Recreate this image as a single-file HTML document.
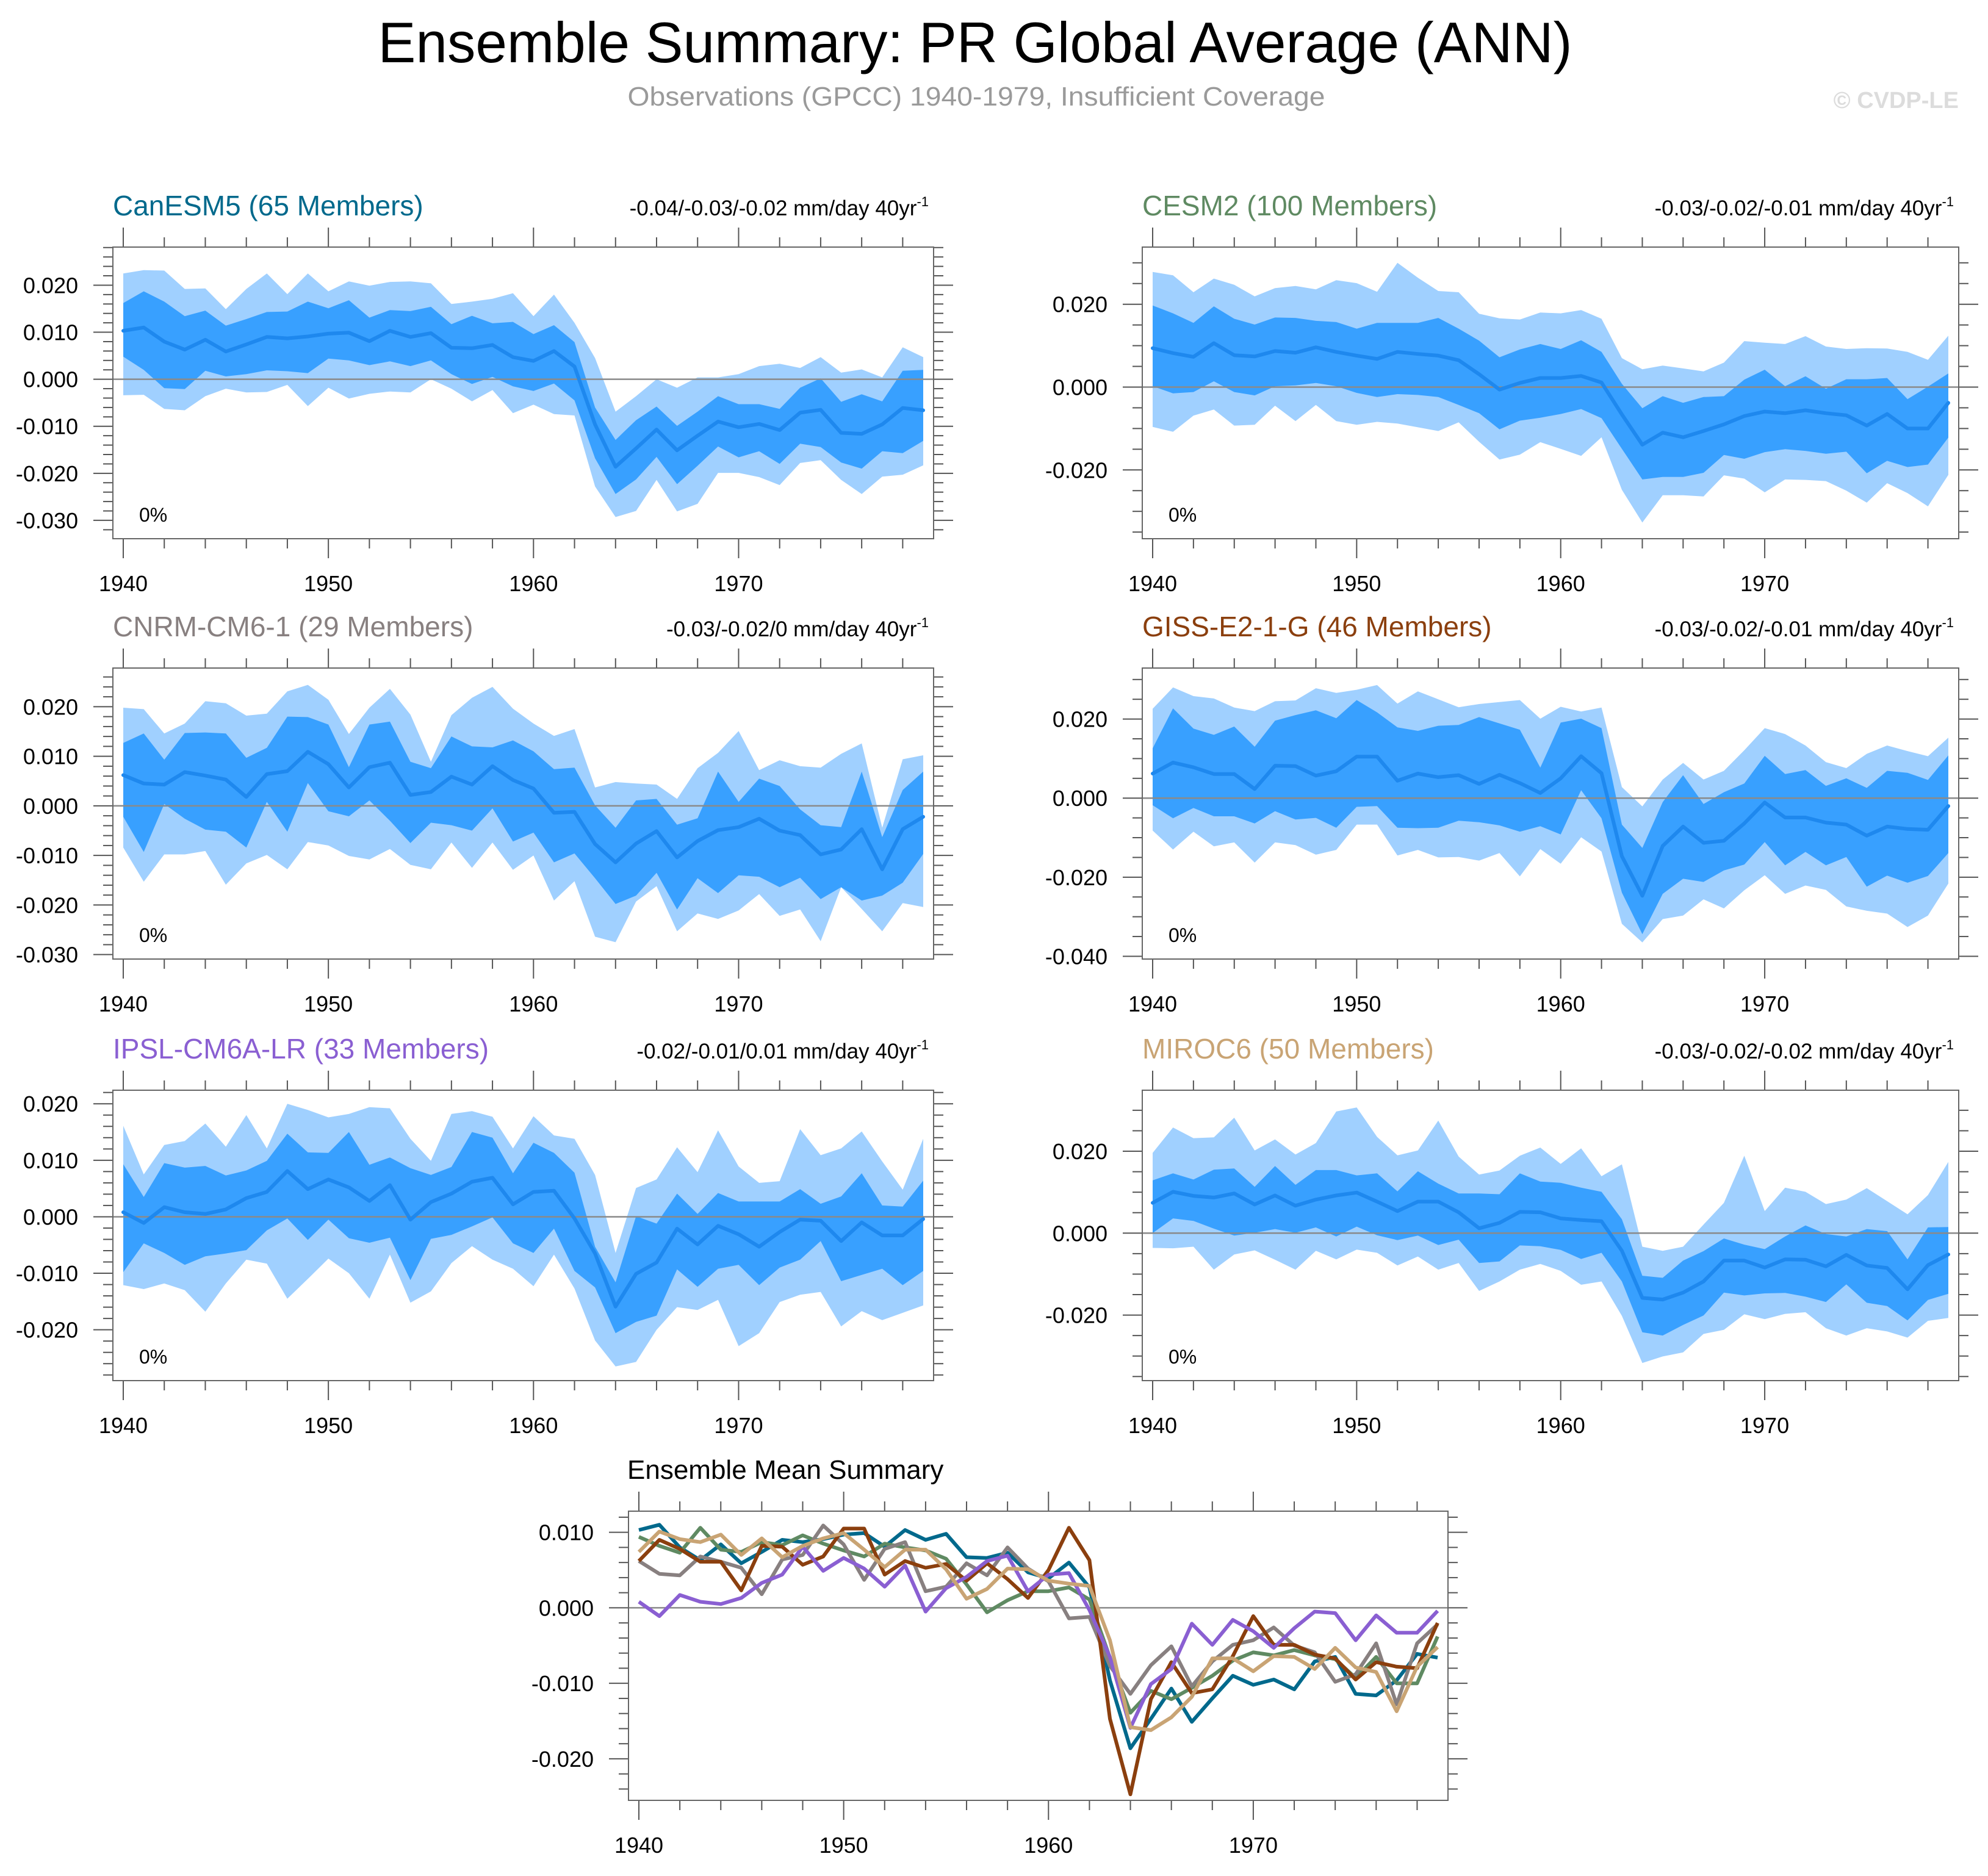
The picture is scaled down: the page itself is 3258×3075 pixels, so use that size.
<!DOCTYPE html>
<html><head><meta charset="utf-8"><title>Ensemble Summary: PR Global Average (ANN)</title>
<style>html,body{margin:0;padding:0;background:#fff}svg{display:block;font-family:"Liberation Sans",Arial,sans-serif}</style>
</head><body>
<svg id="chart" xmlns="http://www.w3.org/2000/svg" width="3258" height="3075" viewBox="0 0 3258 3075">
<rect x="0" y="0" width="3258" height="3075" fill="#fff"/>
<text x="1598" y="102" text-anchor="middle" font-size="94" textLength="1957" lengthAdjust="spacingAndGlyphs" fill="#000">Ensemble Summary: PR Global Average (ANN)</text>
<text x="1600" y="173" text-anchor="middle" font-size="44" textLength="1143" lengthAdjust="spacingAndGlyphs" fill="#9a9a9a">Observations (GPCC) 1940-1979, Insufficient Coverage</text>
<text x="3210" y="177" text-anchor="end" font-size="38" font-weight="bold" fill="#dcdcdc">© CVDP-LE</text>
<g id="panels"></g>
</svg>
<script>
// values in units of 1e-4 mm/day
const UNIT = 1e-4;
const years = [1940,1941,1942,1943,1944,1945,1946,1947,1948,1949,1950,1951,1952,1953,1954,1955,1956,1957,1958,1959,1960,1961,1962,1963,1964,1965,1966,1967,1968,1969,1970,1971,1972,1973,1974,1975,1976,1977,1978,1979];
const xTickLabels = ["1940","1950","1960","1970"];

const canesm5Mean = [103,110,80,63,84,59,74,90,87,91,97,99,81,103,90,98,67,66,73,47,39,60,27,-96,-186,-147,-107,-151,-120,-90,-102,-95,-108,-71,-65,-114,-116,-96,-61,-66];
const canesm5InnerHi = [162,187,165,134,146,114,128,143,144,165,151,168,131,147,145,154,117,135,119,122,96,115,79,-60,-129,-87,-58,-99,-69,-36,-53,-53,-63,-18,2,-48,-32,-47,18,20];
const canesm5InnerLo = [48,20,-19,-21,18,6,11,19,17,13,44,40,30,38,28,40,11,-10,5,-15,-25,-9,-45,-168,-244,-213,-165,-223,-184,-143,-166,-153,-180,-137,-144,-177,-190,-153,-157,-131];
const canesm5OuterHi = [225,232,231,192,193,149,192,225,181,225,187,208,199,207,208,204,160,165,171,183,134,180,120,45,-69,-36,0,-18,4,4,11,28,33,24,47,14,21,4,68,47];
const canesm5OuterLo = [-34,-33,-63,-66,-36,-20,-28,-27,-12,-57,-18,-41,-31,-26,-28,0,-20,-47,-23,-72,-54,-74,-77,-228,-293,-280,-214,-281,-265,-199,-199,-208,-225,-178,-172,-214,-244,-207,-203,-183];

const cesm2Mean = [94,82,73,106,77,74,87,83,96,85,76,68,85,80,76,65,31,-6,10,22,22,27,11,-66,-139,-110,-121,-106,-90,-70,-59,-63,-56,-63,-68,-93,-65,-100,-100,-38];
const cesm2InnerHi = [197,178,155,195,165,151,168,167,160,157,141,155,155,155,167,141,112,72,91,104,92,113,85,8,-51,-22,-38,-24,-22,18,42,2,26,-4,19,19,22,-29,1,33];
const cesm2InnerLo = [2,-15,-12,14,-12,-20,2,4,10,2,-14,-24,-17,-19,-24,-43,-63,-102,-81,-74,-65,-53,-75,-149,-223,-217,-217,-207,-164,-173,-157,-150,-154,-161,-156,-208,-178,-193,-187,-122];
const cesm2OuterHi = [278,270,229,262,247,219,239,244,236,258,251,230,300,264,232,229,177,166,163,180,178,186,165,70,43,52,45,38,59,111,107,104,123,98,92,94,93,85,66,124];
const cesm2OuterLo = [-96,-108,-69,-54,-93,-91,-45,-82,-43,-82,-91,-84,-88,-97,-106,-85,-132,-175,-163,-133,-149,-166,-121,-248,-327,-261,-261,-264,-213,-221,-254,-223,-224,-227,-250,-279,-232,-256,-288,-212];

const cnrmMean = [62,45,43,68,61,53,18,64,70,109,84,37,78,87,22,28,59,43,80,52,35,-14,-12,-77,-114,-76,-51,-104,-71,-49,-43,-26,-50,-59,-98,-88,-47,-128,-47,-22];
const cnrmInnerHi = [127,146,93,147,148,146,97,117,180,179,164,78,164,170,89,76,140,120,118,132,110,74,77,1,-44,11,14,-38,-25,69,8,55,40,-7,-39,-43,69,-63,32,69];
const cnrmInnerLo = [-22,-93,4,-26,-48,-52,-84,8,-52,46,-11,-21,11,-30,-75,-34,-39,-50,-5,-72,-54,-114,-96,-146,-198,-181,-135,-209,-146,-176,-140,-143,-164,-145,-188,-164,-191,-181,-155,-97];
const cnrmOuterHi = [198,195,146,166,211,207,182,186,231,244,214,145,198,236,184,89,183,218,240,196,166,141,155,37,48,45,43,14,76,107,151,72,92,80,77,105,126,-44,94,102];
const cnrmOuterLo = [-84,-153,-98,-98,-91,-159,-116,-99,-128,-73,-80,-101,-108,-87,-119,-128,-74,-125,-74,-129,-100,-191,-152,-264,-275,-193,-162,-253,-217,-228,-211,-178,-222,-209,-273,-164,-208,-253,-196,-204];

const gissMean = [62,90,78,61,61,23,82,81,57,68,105,105,44,62,53,58,36,59,38,13,50,106,63,-147,-247,-121,-72,-113,-108,-64,-11,-49,-49,-62,-67,-95,-72,-78,-80,-20];
const gissInnerHi = [126,227,176,160,181,130,196,210,222,202,248,217,179,170,183,185,205,189,173,77,191,201,177,-67,-126,-10,58,-15,15,37,107,61,71,31,50,26,69,64,46,108];
const gissInnerLo = [-18,-51,-25,-46,-46,-64,-33,-54,-50,-75,-22,-20,-75,-76,-75,-57,-61,-69,-85,-71,-92,20,-51,-239,-344,-242,-204,-212,-183,-168,-111,-170,-136,-170,-149,-224,-196,-214,-197,-139];
const gissOuterHi = [226,280,258,252,229,220,245,247,278,266,274,286,239,270,250,230,238,243,248,201,231,219,229,28,-21,47,89,47,69,121,177,162,133,91,76,112,133,119,106,153];
const gissOuterLo = [-82,-130,-85,-122,-112,-163,-112,-119,-143,-131,-67,-67,-145,-131,-150,-149,-158,-139,-198,-129,-166,-99,-135,-318,-365,-306,-297,-256,-279,-233,-195,-242,-221,-232,-274,-285,-292,-326,-297,-216];

const ipslMean = [8,-11,17,8,5,13,33,44,81,49,66,52,28,56,-5,26,41,62,69,22,44,46,-3,-65,-159,-101,-81,-21,-49,-16,-31,-53,-27,-5,-7,-43,-10,-33,-33,-4];
const ipslInnerHi = [93,35,95,87,90,73,82,99,147,114,113,150,92,105,86,74,88,150,140,77,131,113,78,-53,-116,1,-12,41,5,42,27,27,27,49,23,36,77,20,18,64];
const ipslInnerLo = [-98,-47,-64,-85,-70,-65,-59,-24,-3,-41,-5,-38,-46,-37,-112,-39,-32,-17,-1,-47,-64,-21,-96,-125,-206,-186,-175,-93,-124,-92,-85,-121,-90,-76,-43,-114,-103,-92,-121,-96];
const ipslOuterHi = [161,75,127,134,165,124,180,121,200,189,176,182,194,192,138,99,182,187,177,121,178,144,138,74,-64,51,66,123,79,153,89,60,63,155,109,121,151,98,48,138];
const ipslOuterLo = [-121,-128,-118,-130,-168,-118,-76,-83,-145,-110,-74,-100,-145,-67,-152,-132,-82,-52,-76,-92,-123,-67,-127,-219,-265,-257,-200,-160,-165,-147,-229,-206,-151,-138,-133,-194,-167,-183,-170,-157];

const mirocMean = [74,101,91,87,97,70,92,67,82,92,99,77,54,77,77,51,12,25,52,51,36,32,29,-43,-158,-162,-145,-118,-67,-67,-84,-64,-65,-81,-53,-79,-85,-137,-78,-52];
const mirocInnerHi = [129,146,131,155,158,113,164,118,154,154,141,146,102,151,121,97,97,95,146,126,123,111,101,34,-104,-109,-67,-44,-13,-28,-39,-8,19,-2,-8,10,5,-64,14,15];
const mirocInnerLo = [0,36,30,11,-6,1,10,1,14,-8,16,-5,-17,-6,-29,-16,-73,-69,-30,-32,-41,-63,-48,-118,-242,-250,-224,-201,-145,-152,-147,-146,-155,-168,-125,-170,-178,-213,-163,-148];
const mirocOuterHi = [196,258,232,234,282,202,229,192,220,297,307,235,190,202,275,187,143,153,189,209,169,207,139,168,-33,-43,-33,21,74,189,54,111,101,71,82,110,78,46,93,174];
const mirocOuterLo = [-36,-37,-33,-89,-52,-42,-65,-89,-43,-64,-40,-48,-79,-57,-89,-73,-141,-118,-89,-75,-92,-126,-118,-202,-317,-301,-291,-246,-236,-198,-210,-197,-193,-232,-250,-232,-240,-255,-214,-207];

const NS = "http://www.w3.org/2000/svg";
const root = document.getElementById('panels');
function mk(tag, attrs, parent) {
  const e = document.createElementNS(NS, tag);
  for (const k in attrs) e.setAttribute(k, attrs[k]);
  (parent || root).appendChild(e);
  return e;
}

const panels = [
  {key:'canesm5', title:'CanESM5 (65 Members)', color:'#00698c', trend:'-0.04/-0.03/-0.02 mm/day 40yr', box:[185,405,1530,883], ymin:-0.0339, ymax:0.0281, major:0.01, minor:0.002, labelStep:0.01,
   mean:canesm5Mean, iH:canesm5InnerHi, iL:canesm5InnerLo, oH:canesm5OuterHi, oL:canesm5OuterLo},
  {key:'cesm2', title:'CESM2 (100 Members)', color:'#5f8a62', trend:'-0.03/-0.02/-0.01 mm/day 40yr', box:[1872,405,3210,883], ymin:-0.0366, ymax:0.0338, major:0.02, minor:0.005, labelStep:0.02,
   mean:cesm2Mean, iH:cesm2InnerHi, iL:cesm2InnerLo, oH:cesm2OuterHi, oL:cesm2OuterLo},
  {key:'cnrm', title:'CNRM-CM6-1 (29 Members)', color:'#888080', trend:'-0.03/-0.02/0 mm/day 40yr', box:[185,1095,1530,1572], ymin:-0.0309, ymax:0.0278, major:0.01, minor:0.002, labelStep:0.01,
   mean:cnrmMean, iH:cnrmInnerHi, iL:cnrmInnerLo, oH:cnrmOuterHi, oL:cnrmOuterLo},
  {key:'giss', title:'GISS-E2-1-G (46 Members)', color:'#8b3f0e', trend:'-0.03/-0.02/-0.01 mm/day 40yr', box:[1872,1095,3210,1572], ymin:-0.0407, ymax:0.0329, major:0.02, minor:0.005, labelStep:0.02,
   mean:gissMean, iH:gissInnerHi, iL:gissInnerLo, oH:gissOuterHi, oL:gissOuterLo},
  {key:'ipsl', title:'IPSL-CM6A-LR (33 Members)', color:'#8a5fd2', trend:'-0.02/-0.01/0.01 mm/day 40yr', box:[185,1787,1530,2263], ymin:-0.0290, ymax:0.0224, major:0.01, minor:0.002, labelStep:0.01,
   mean:ipslMean, iH:ipslInnerHi, iL:ipslInnerLo, oH:ipslOuterHi, oL:ipslOuterLo},
  {key:'miroc', title:'MIROC6 (50 Members)', color:'#c9a474', trend:'-0.03/-0.02/-0.02 mm/day 40yr', box:[1872,1787,3210,2263], ymin:-0.0360, ymax:0.0349, major:0.02, minor:0.005, labelStep:0.02,
   mean:mirocMean, iH:mirocInnerHi, iL:mirocInnerLo, oH:mirocOuterHi, oL:mirocOuterLo}
];

function makeAxes(box, ymin, ymax) {
  const x0 = box[0] + 17, x1 = box[2] - 17;
  const xs = y => x0 + (y - years[0]) / (years[years.length-1] - years[0]) * (x1 - x0);
  const ys = v => box[3] - (v * UNIT - ymin) / (ymax - ymin) * (box[3] - box[1]);
  const yv = v => box[3] - (v - ymin) / (ymax - ymin) * (box[3] - box[1]);
  return {xs, ys, yv};
}

function drawFrame(g, box, ax, ymin, ymax, major, minor, name) {
  const [L,T,R,B] = box;
  const z = mk('line', {x1:L, x2:R, y1:ax.yv(0), y2:ax.yv(0), stroke:'#8a8a8a', 'stroke-width':2.5}, g);
  
  
  for (let yr = 1940; yr <= 1979; yr += 2) {
    const isMaj = (yr % 10 === 0);
    const len = isMaj ? 32 : 16;
    const x = ax.xs(yr);
    const t1 = mk('line', {x1:x, x2:x, y1:T, y2:T-len, stroke:'#555', 'stroke-width':2}, g);
    
    
    const t2 = mk('line', {x1:x, x2:x, y1:B, y2:B+len, stroke:'#555', 'stroke-width':2}, g);
    
    
  }
  xTickLabels.forEach(lbl => {
    const t = mk('text', {x:ax.xs(+lbl), y:B+86, 'text-anchor':'middle', 'font-size':36, fill:'#000'}, g);
    t.textContent = lbl;
    
    
  });
  const nMin = Math.ceil(ymin / minor - 1e-6), nMax = Math.floor(ymax / minor + 1e-6);
  for (let n = nMin; n <= nMax; n++) {
    const v = n * minor;
    const isMaj = Math.abs(v / major - Math.round(v / major)) < 1e-6;
    const len = isMaj ? 32 : 16;
    const y = ax.yv(v);
    const a = mk('line', {x1:L, x2:L-len, y1:y, y2:y, stroke:'#555', 'stroke-width':2}, g);
    
    
    const b = mk('line', {x1:R, x2:R+len, y1:y, y2:y, stroke:'#555', 'stroke-width':2}, g);
    
    
    if (isMaj) {
      const t = mk('text', {x:L-57, y:y+13, 'text-anchor':'end', 'font-size':36, fill:'#000'}, g);
      t.textContent = (Math.abs(v) < 1e-9 ? 0 : v).toFixed(3);
      
      
    }
  }
  const f = mk('rect', {x:L, y:T, width:R-L, height:B-T, fill:'none', stroke:'#666', 'stroke-width':2}, g);
  
  
}

function bandPath(ax, hi, lo) {
  let d = '';
  years.forEach((yr, i) => { d += (i ? 'L' : 'M') + ax.xs(yr).toFixed(1) + ',' + ax.ys(hi[i]).toFixed(1); });
  for (let i = years.length - 1; i >= 0; i--) d += 'L' + ax.xs(years[i]).toFixed(1) + ',' + ax.ys(lo[i]).toFixed(1);
  return d + 'Z';
}
function linePath(ax, arr) {
  let d = '';
  years.forEach((yr, i) => { d += (i ? 'L' : 'M') + ax.xs(yr).toFixed(1) + ',' + ax.ys(arr[i]).toFixed(1); });
  return d;
}

panels.forEach(p => {
  const g = mk('g', {});
  
  
  const ax = makeAxes(p.box, p.ymin, p.ymax);
  const [L,T,R,B] = p.box;
  const ob = mk('path', {d:bandPath(ax, p.oH, p.oL), fill:'#a0d0ff'}, g);
  
  
  const ib = mk('path', {d:bandPath(ax, p.iH, p.iL), fill:'#38a0ff'}, g);
  
  
  drawFrame(g, p.box, ax, p.ymin, p.ymax, p.labelStep, p.minor, p.key);
  const ml = mk('path', {d:linePath(ax, p.mean), fill:'none', stroke:'#1e88ee', 'stroke-width':6, 'stroke-linejoin':'round', 'stroke-linecap':'round'}, g);
  
  
  const tt = mk('text', {x:L, y:T-52, 'font-size':46, fill:p.color}, g);
  tt.textContent = p.title;
  
  
  const tr = mk('text', {x:R-8, y:T-52, 'text-anchor':'end', 'font-size':35, fill:'#000'}, g);
  tr.textContent = p.trend;
  const sup = mk('tspan', {'font-size':22, dy:-15}, tr);
  sup.textContent = '-1';
  
  
  const pc = mk('text', {x:L+43, y:B-28, 'font-size':32, fill:'#000'}, g);
  pc.textContent = '0%';
  
  
});

const sBox = [1030,2477,2373,2951];
const sMin = -0.0255, sMax = 0.0128;
const sg = mk('g', {});


const sax = makeAxes(sBox, sMin, sMax);
drawFrame(sg, sBox, sax, sMin, sMax, 0.01, 0.002, 'summary');
panels.forEach(p => {
  const l = mk('path', {d:linePath(sax, p.mean), fill:'none', stroke:p.color, 'stroke-width':6, 'stroke-linejoin':'round'}, sg);
  
  
});
const st = mk('text', {x:1028, y:2424, 'font-size':44, fill:'#000'}, sg);
st.textContent = 'Ensemble Mean Summary';


</script>
</body></html>
